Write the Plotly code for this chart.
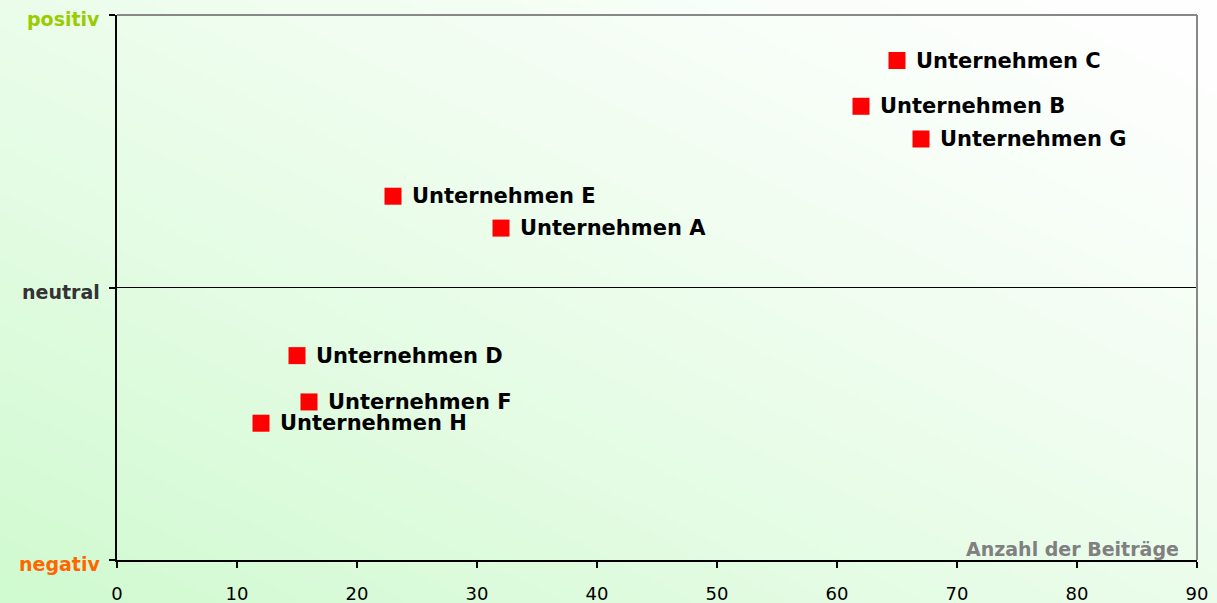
import base64, struct, zlib
import numpy as np
import plotly.graph_objects as go

# ---- data ----
companies = ["Unternehmen C", "Unternehmen B", "Unternehmen G", "Unternehmen E",
             "Unternehmen A", "Unternehmen D", "Unternehmen F", "Unternehmen H"]
beitraege = [65, 62, 67, 23, 32, 15, 16, 12]
tonalitaet = [8.33, 6.65, 5.45, 3.35, 2.18, -2.5, -4.2, -4.98]
y_tick_vals = [-10, 0, 10]
y_tick_labels = ["negativ", "neutral", "positiv"]
y_tick_colors = ["#FF6600", "#333333", "#99CC00"]
x_tick_vals = list(range(0, 91, 10))
x_title = "Anzahl der Beiträge"

W, H = 1217, 603
ML, MR, MT, MB = 117, 20, 15, 43


def gradient_png(w, h):
    xs = np.linspace(0, 1, w)[None, :]
    ys = np.linspace(1, 0, h)[:, None]  # top row = 1 (top)
    s = (xs + ys) / 2.0
    t = np.clip(1 - s, 0, 1) ** 1.25
    green = np.array([208, 250, 208], float)
    white = np.array([255, 255, 255], float)
    img = white + (green - white) * t[..., None]
    img = img.astype(np.uint8)
    raw = b"".join(b"\x00" + img[r].tobytes() for r in range(h))

    def chunk(tag, data):
        c = struct.pack(">I", len(data)) + tag + data
        return c + struct.pack(">I", zlib.crc32(tag + data) & 0xFFFFFFFF)

    png = b"\x89PNG\r\n\x1a\n"
    png += chunk(b"IHDR", struct.pack(">IIBBBBB", w, h, 8, 2, 0, 0, 0))
    png += chunk(b"IDAT", zlib.compress(raw, 9))
    png += chunk(b"IEND", b"")
    return "data:image/png;base64," + base64.b64encode(png).decode()


pw = W - ML - MR
ph = H - MT - MB

fig = go.Figure()
fig.add_trace(go.Scatter(
    x=beitraege, y=tonalitaet, mode="markers",
    marker=dict(symbol="square", size=17, color="#FF0000", line=dict(width=0)),
    cliponaxis=False, hoverinfo="skip",
))

label_annotations = [
    dict(x=xv, y=yv, xref="x", yref="y", text=f"<b>{name}</b>", showarrow=False,
         xanchor="left", yanchor="middle", xshift=17,
         font=dict(family="DejaVu Sans", size=21, color="#000000"))
    for xv, yv, name in zip(beitraege, tonalitaet, companies)
]

y_label_annotations = [
    dict(x=0, y=yv, xref="paper", yref="y", text=f"<b>{t}</b>", showarrow=False,
         xanchor="right", yanchor="middle", xshift=-15, yshift=-4,
         font=dict(family="DejaVu Sans", size=19, color=c))
    for yv, t, c in zip(y_tick_vals, y_tick_labels, y_tick_colors)
]

fig.update_layout(
    width=W, height=H,
    margin=dict(l=ML, r=MR, t=MT, b=MB, pad=0, autoexpand=False),
    paper_bgcolor="white", plot_bgcolor="rgba(0,0,0,0)",
    showlegend=False,
    xaxis=dict(range=[0, 90], tickvals=x_tick_vals, ticks="outside", ticklen=6,
               tickwidth=2, tickcolor="black", showline=True, linecolor="black",
               linewidth=2, showgrid=False, zeroline=False, automargin=False,
               ticklabelstandoff=10,
               tickfont=dict(family="DejaVu Sans", size=18, color="black")),
    yaxis=dict(range=[-10, 10], tickvals=y_tick_vals, showticklabels=False,
               ticks="outside", ticklen=6, tickwidth=2, tickcolor="black",
               showline=True, linecolor="black", linewidth=2, showgrid=False,
               zeroline=True, zerolinecolor="black", zerolinewidth=1,
               automargin=False),
    images=[dict(source=gradient_png(240, 120), xref="paper", yref="paper",
                 x=-ML / pw, y=1 + MT / ph, sizex=W / pw, sizey=H / ph,
                 sizing="stretch", layer="below", xanchor="left", yanchor="top")],
    shapes=[
        dict(type="line", xref="paper", yref="paper", x0=0, x1=1, y0=1, y1=1,
             line=dict(color="#888888", width=2)),
        dict(type="line", xref="paper", yref="paper", x0=1, x1=1, y0=0, y1=1,
             line=dict(color="#888888", width=2)),
    ],
    annotations=label_annotations + y_label_annotations + [
        dict(text=f"<b>{x_title}</b>", xref="paper", yref="paper",
             x=(1181 - ML) / pw, y=0, xanchor="right", yanchor="bottom",
             showarrow=False, yshift=-2,
             font=dict(family="DejaVu Sans", size=19, color="#808080"))],
)

fig.write_html("out.html", config={"displayModeBar": False},
               post_script="document.body.style.margin='0';document.body.style.overflow='hidden';")
